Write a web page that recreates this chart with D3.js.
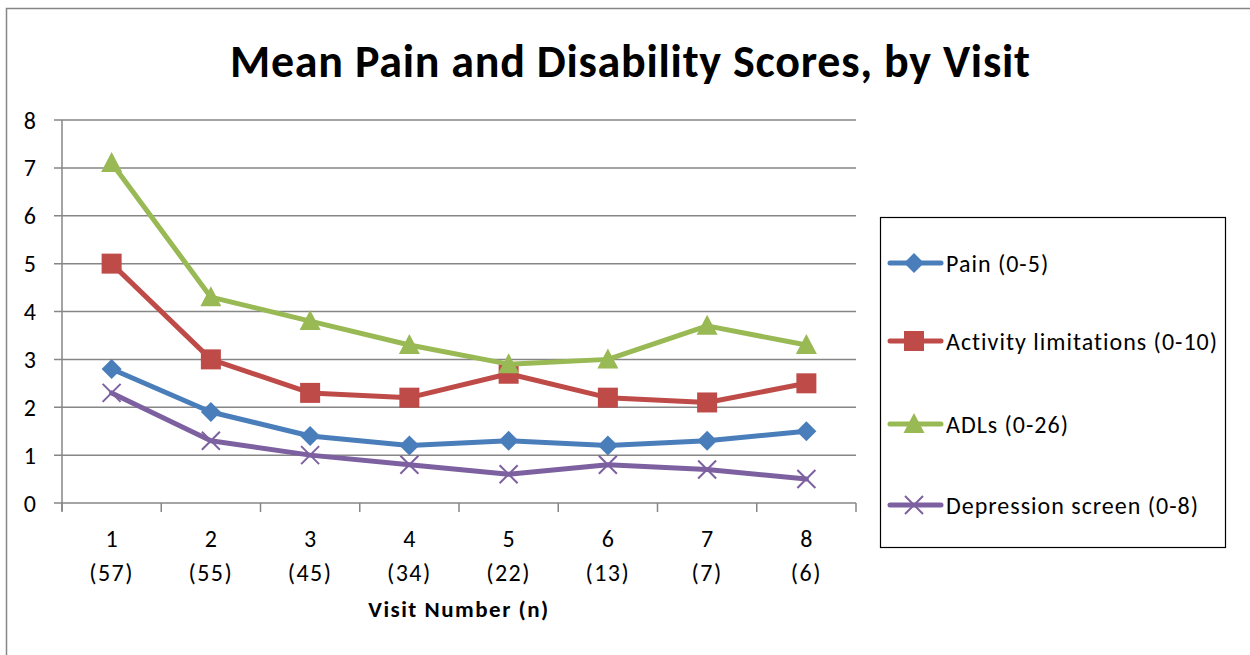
<!DOCTYPE html>
<html><head><meta charset="utf-8">
<script src="https://cdn.jsdelivr.net/npm/d3@7"></script>
<style>body{margin:0;background:#fff}svg{display:block}</style>
</head><body>
<script>
const categories = ["1","2","3","4","5","6","7","8"];
const nLabels = ["(57)","(55)","(45)","(34)","(22)","(13)","(7)","(6)"];
const yTicks = [0,1,2,3,4,5,6,7,8];
const seriesNames = ["Pain (0-5)","Activity limitations (0-10)","ADLs (0-26)","Depression screen (0-8)"];
const pain = [2.8,1.9,1.4,1.2,1.3,1.2,1.3,1.5];
const activity = [5.0,3.0,2.3,2.2,2.7,2.2,2.1,2.5];
const adls = [7.1,4.3,3.8,3.3,2.9,3.0,3.7,3.3];
const depression = [2.3,1.3,1.0,0.8,0.6,0.8,0.7,0.5];
const colors = ["#4A7EBB","#BE4B48","#98B954","#7D60A0"];
const markers = ["diamond","square","triangle","x"];
const series = [pain, activity, adls, depression];

const W=1250,H=655;
const svg=d3.select("body").append("svg").attr("width",W).attr("height",H);
const font="Carlito, Calibri, Lato, 'Open Sans', sans-serif";
svg.append("rect").attr("x",6.5).attr("y",8.5).attr("width",1260).attr("height",700)
  .attr("fill","#fff").attr("stroke","#868686").attr("stroke-width",1.5);

svg.append("text").attr("x",630).attr("y",77).attr("text-anchor","middle")
  .attr("font-family",font).attr("font-weight","bold").attr("font-size",46)
  .attr("textLength",800).attr("lengthAdjust","spacing")
  .text("Mean Pain and Disability Scores, by Visit");

const L=62,R=856,T=120,B=503;
const x=d3.scaleBand().domain(categories).range([L,R]);
const y=d3.scaleLinear().domain([0,8]).range([B,T]);

const g=svg.append("g");
g.selectAll("line.grid").data(yTicks).join("line")
  .attr("x1",L-8).attr("x2",R).attr("y1",d=>y(d)).attr("y2",d=>y(d))
  .attr("stroke","#868686").attr("stroke-width",1.5);
g.append("line").attr("x1",L).attr("x2",L).attr("y1",T).attr("y2",B+8).attr("stroke","#868686").attr("stroke-width",1.5);
const bounds=categories.map(c=>x(c)).concat([R]);
g.selectAll("line.xt").data(bounds).join("line")
  .attr("x1",d=>d).attr("x2",d=>d).attr("y1",B).attr("y2",B+9)
  .attr("stroke","#868686").attr("stroke-width",1.5);
g.selectAll("text.yl").data(yTicks).join("text")
  .attr("x",36).attr("y",d=>y(d)+8.5).attr("text-anchor","end")
  .attr("font-family",font).attr("font-size",24).text(d=>d);
g.selectAll("text.xl").data(categories).join("text")
  .attr("x",d=>x(d)+x.bandwidth()/2).attr("y",547).attr("text-anchor","middle")
  .attr("font-family",font).attr("font-size",24).text(d=>d);
g.selectAll("text.xn").data(nLabels).join("text")
  .attr("x",(d,i)=>x(categories[i])+x.bandwidth()/2).attr("y",581).attr("text-anchor","middle")
  .attr("font-family",font).attr("font-size",24).attr("letter-spacing",1.5).text(d=>d);
svg.append("text").attr("x",459).attr("y",617).attr("text-anchor","middle")
  .attr("font-family",font).attr("font-weight","bold").attr("font-size",23).attr("letter-spacing",1.5).text("Visit Number (n)");

function drawMarker(sel,type,color,cx,cy){
  if(type==="diamond"){
    sel.append("path").attr("d",`M${cx},${cy-10}L${cx+10},${cy}L${cx},${cy+10}L${cx-10},${cy}Z`).attr("fill",color);
  } else if(type==="square"){
    sel.append("rect").attr("x",cx-10).attr("y",cy-10).attr("width",20).attr("height",20).attr("fill",color);
  } else if(type==="triangle"){
    sel.append("path").attr("d",`M${cx},${cy-11}L${cx+10.5},${cy+9}L${cx-10.5},${cy+9}Z`).attr("fill",color);
  } else {
    sel.append("path").attr("d",`M${cx-9},${cy-9}L${cx+9},${cy+9}M${cx-9},${cy+9}L${cx+9},${cy-9}`).attr("stroke",color).attr("stroke-width",2);
  }
}

const line=d3.line().x((d,i)=>x(categories[i])+x.bandwidth()/2).y(d=>y(d));
series.forEach((s,k)=>{
  const sg=svg.append("g");
  sg.append("path").attr("d",line(s)).attr("fill","none").attr("stroke",colors[k]).attr("stroke-width",5).attr("stroke-linejoin","round").attr("stroke-linecap","round");
  s.forEach((v,i)=>drawMarker(sg,markers[k],colors[k],x(categories[i])+x.bandwidth()/2,y(v)));
});

svg.append("rect").attr("x",880.5).attr("y",217.5).attr("width",345).attr("height",330).attr("fill","none").attr("stroke","#000").attr("stroke-width",1.2);
const ly=[263,341,424,505];
seriesNames.forEach((n,k)=>{
  const lg=svg.append("g");
  lg.append("line").attr("x1",890).attr("x2",941).attr("y1",ly[k]).attr("y2",ly[k]).attr("stroke",colors[k]).attr("stroke-width",5).attr("stroke-linecap","round");
  drawMarker(lg,markers[k],colors[k],914,ly[k]);
  lg.append("text").attr("x",946).attr("y",ly[k]+8.5).attr("font-family",font).attr("font-size",24).attr("letter-spacing",1).text(n);
});
</script>
</body></html>
